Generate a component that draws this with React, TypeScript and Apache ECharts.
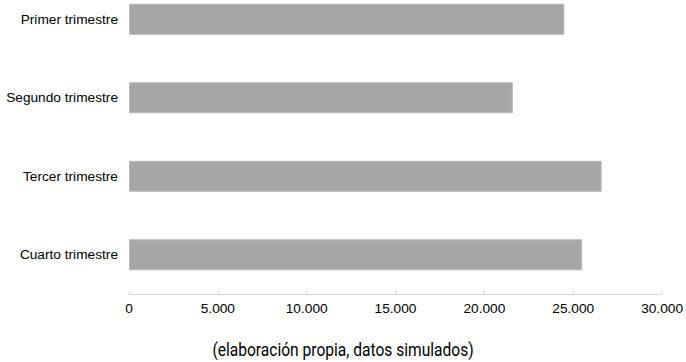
import React, { useEffect, useRef } from "react";
import * as echarts from "echarts";

const categories = ["Primer trimestre", "Segundo trimestre", "Tercer trimestre", "Cuarto trimestre"];
const values = [24500, 21600, 26600, 25500];
const footnote = "(elaboración propia, datos simulados)";

export default function App() {
  const ref = useRef<HTMLDivElement>(null);
  useEffect(() => {
    const chart = echarts.init(ref.current!, null, { renderer: "svg" });
    chart.setOption({
      animation: false,
      grid: { left: 129, right: 23, top: 0, bottom: 68, containLabel: false },
      xAxis: {
        type: "value",
        min: 0,
        max: 30000,
        interval: 5000,
        axisLine: { show: true, lineStyle: { color: "#d9d9d9", width: 1 } },
        axisTick: { show: true, length: 3, inside: true, lineStyle: { color: "#d9d9d9" } },
        splitLine: { show: false },
        axisLabel: {
          color: "#000",
          fontFamily: "Liberation Sans, Arial, sans-serif",
          fontSize: 13.7,
          margin: 7,
          formatter: (v: number) => v.toString().replace(/\B(?=(\d{3})+(?!\d))/g, "."),
        },
      },
      yAxis: {
        type: "category",
        inverse: true,
        data: categories,
        axisLine: { show: false },
        axisTick: { show: false },
        axisLabel: {
          color: "#000",
          fontFamily: "Liberation Sans, Arial, sans-serif",
          fontSize: 13.7,
          margin: 11,
        },
      },
      series: [
        {
          type: "bar",
          data: values,
          barWidth: 31,
          itemStyle: { color: "#a6a6a6", borderColor: "#b8b8b8", borderWidth: 1 },
        },
      ],
      graphic: [
        {
          type: "text",
          x: 343,
          y: 369,
          scaleX: 0.82,
          style: {
            text: footnote,
            fill: "#000",
            font: '19px Roboto, sans-serif',
            textAlign: "center",
            textVerticalAlign: "middle",
          },
        },
      ],
    });
    return () => chart.dispose();
  }, []);
  return (
    <div
      ref={ref}
      style={{ position: "fixed", left: 0, top: -20, width: 686, height: 382, background: "#fff" }}
    />
  );
}
